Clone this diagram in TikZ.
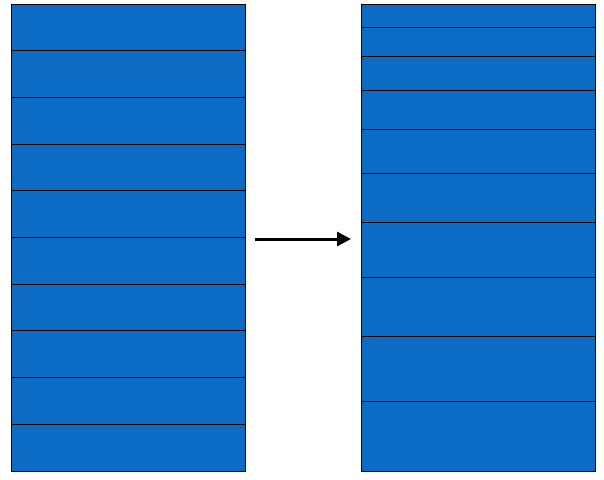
\documentclass[tikz,border=0pt]{standalone}
\usetikzlibrary{arrows.meta}
\definecolor{bandblue}{RGB}{11,107,197}
\tikzset{>={Triangle[length=14pt,width=14pt]}}
\tikzset{band/.style={draw=black, fill=bandblue, line width=1pt}}

\begin{document}
\begin{tikzpicture}[x=1pt,y=-1pt]
     \useasboundingbox (0,0) rectangle (604,479);
     % left stack, equal bands
     \foreach \i in {0,...,9}
          \draw[band] (11,{4+46.7*\i}) rectangle (245,{4+46.7*(\i+1)});
     % right stack, bands growing downwards
     \foreach \t/\b in {4/27, 27/56, 56/90, 90/129, 129/173, 173/222, 222/277, 277/336, 336/401, 401/471}
          \draw[band] (361,\t) rectangle (595,\b);
     \coordinate (leftstack) at (245,239);
     \coordinate (rightstack) at (361,239);
     \draw[->, line width=3pt, shorten <=10pt, shorten >=10pt] (leftstack) -- (rightstack);
\end{tikzpicture}
\end{document}
